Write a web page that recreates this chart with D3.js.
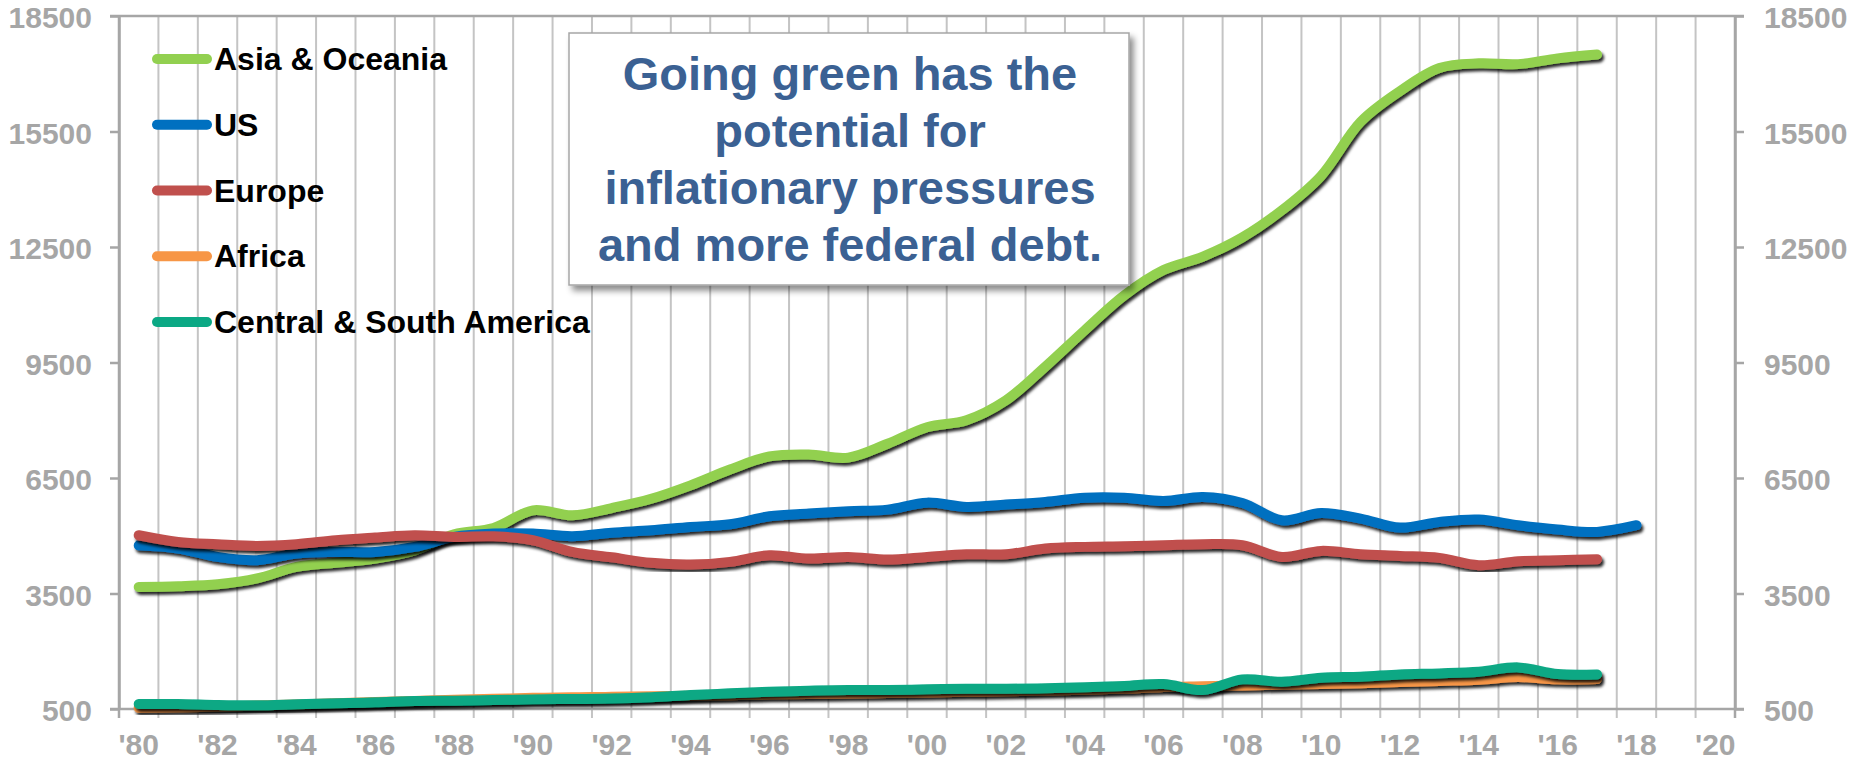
<!DOCTYPE html>
<html>
<head>
<meta charset="utf-8">
<script src="https://cdn.jsdelivr.net/npm/d3@7"></script>
<style>
  html, body { margin: 0; padding: 0; background: #ffffff; }
  svg { display: block; }
  text { font-family: "Liberation Sans", Arial, sans-serif; font-weight: bold; }
</style>
</head>
<body>
<svg id="chart" width="1853" height="762"></svg>
<script>
// ---------------- DATA ----------------
const years = [1980,1981,1982,1983,1984,1985,1986,1987,1988,1989,
               1990,1991,1992,1993,1994,1995,1996,1997,1998,1999,
               2000,2001,2002,2003,2004,2005,2006,2007,2008,2009,
               2010,2011,2012,2013,2014,2015,2016,2017,2018,2019,2020];
const xTickYears  = [1980,1982,1984,1986,1988,1990,1992,1994,1996,1998,2000,
                     2002,2004,2006,2008,2010,2012,2014,2016,2018,2020];
const xTickLabels = ["'80","'82","'84","'86","'88","'90","'92","'94","'96","'98","'00",
                     "'02","'04","'06","'08","'10","'12","'14","'16","'18","'20"];
const yTicks = [500, 3500, 6500, 9500, 12500, 15500, 18500];

const seriesNames = ["Asia & Oceania", "US", "Europe", "Africa", "Central & South America"];

const asiaOceania = [3670,3690,3740,3890,4190,4300,4410,4620,5040,5200,
                     5660,5530,5720,5960,6310,6720,7060,7110,7030,7390,
                     7820,8000,8515,9390,10335,11240,11900,12250,12750,13450,
                     14350,15750,16550,17150,17270,17250,17400,17500];
const us          = [4750,4670,4450,4365,4540,4580,4580,4710,4970,5056,
                     5056,4990,5080,5143,5229,5298,5506,5575,5636,5679,
                     5860,5748,5809,5878,5990,5990,5904,6007,5852,5402,
                     5593,5446,5212,5359,5420,5273,5160,5100,5273];
const europe      = [5013,4840,4780,4737,4780,4883,4953,5013,4970,4987,
                     4883,4581,4440,4296,4252,4322,4494,4408,4451,4382,
                     4451,4520,4520,4667,4711,4728,4754,4780,4754,4451,
                     4607,4520,4477,4425,4235,4339,4365,4391];
const africa      = [530,545,560,590,620,650,680,710,740,765,
                     790,805,815,830,845,860,880,890,900,915,
                     930,945,960,980,1000,1030,1070,1090,1110,1130,
                     1150,1170,1200,1230,1260,1330,1270,1280];
const centralSouthAmerica = [630,630,604,595,621,647,673,707,716,733,
                     750,760,770,803,863,906,950,975,993,993,
                     1010,1027,1027,1036,1062,1097,1148,993,1270,1209,
                     1313,1339,1399,1425,1468,1581,1408,1399];

const seriesValues = [asiaOceania, us, europe, africa, centralSouthAmerica];
const seriesColors = ["#92d050", "#0070c0", "#c0504d", "#f79646", "#0ba884"];

const noteLines = ["Going green has the", "potential for", "inflationary pressures", "and more federal debt."];

// ---------------- LAYOUT ----------------
const svg = d3.select("#chart");
const plotLeft = 119, plotRight = 1735, plotTop = 16, plotBottom = 709;
const tickLen = 9;
const axisColor = "#a6a6a6";
const gridColor = "#c4c4c4";
const axisFont = 30;

const x = d3.scaleBand().domain(years).range([plotLeft, plotRight]).paddingInner(0).paddingOuter(0);
const y = d3.scaleLinear().domain([500, 18500]).range([plotBottom, plotTop]);
const xc = yr => x(yr) + x.bandwidth() / 2;

// defs: shadows
const defs = svg.append("defs");
const sh = defs.append("filter").attr("id", "lineShadow")
  .attr("x", "-5%").attr("y", "-20%").attr("width", "110%").attr("height", "140%");
sh.append("feDropShadow").attr("dx", 2).attr("dy", 3).attr("stdDeviation", 1.6)
  .attr("flood-color", "#000").attr("flood-opacity", 0.85);
const bsh = defs.append("filter").attr("id", "boxShadow")
  .attr("x", "-10%").attr("y", "-10%").attr("width", "120%").attr("height", "120%");
bsh.append("feDropShadow").attr("dx", 4).attr("dy", 5).attr("stdDeviation", 3)
  .attr("flood-color", "#000").attr("flood-opacity", 0.45);

// vertical gridlines at band boundaries (extend below as tick marks)
svg.append("g").selectAll("line")
  .data(years.slice(1))
  .join("line")
  .attr("x1", d => x(d)).attr("x2", d => x(d))
  .attr("y1", plotTop).attr("y2", plotBottom + tickLen)
  .attr("stroke", gridColor).attr("stroke-width", 2);

// top & bottom horizontal border lines
svg.append("g").selectAll("line")
  .data([18500, 500])
  .join("line")
  .attr("x1", plotLeft - tickLen).attr("x2", plotRight + tickLen)
  .attr("y1", d => y(d)).attr("y2", d => y(d))
  .attr("stroke", axisColor).attr("stroke-width", 2.5);

// left axis
const leftAxis = svg.append("g").attr("transform", `translate(${plotLeft},0)`)
  .call(d3.axisLeft(y).tickValues(yTicks).tickSize(tickLen).tickSizeOuter(0).tickPadding(18).tickFormat(d3.format("d")));
// right axis
const rightAxis = svg.append("g").attr("transform", `translate(${plotRight},0)`)
  .call(d3.axisRight(y).tickValues(yTicks).tickSize(tickLen).tickSizeOuter(0).tickPadding(20).tickFormat(d3.format("d")));
[leftAxis, rightAxis].forEach(g => {
  g.select(".domain").attr("stroke", axisColor).attr("stroke-width", 2.5);
  g.selectAll(".tick line").attr("stroke", axisColor).attr("stroke-width", 2.5);
  g.selectAll(".tick text").attr("fill", "#a6a6a6").attr("font-size", axisFont).attr("dy", "0.39em")
    .attr("font-family", "'Liberation Sans', Arial, sans-serif").attr("font-weight", "bold");
});
// axis vertical lines extend slightly below bottom
svg.append("g").selectAll("line")
  .data([plotLeft, plotRight])
  .join("line")
  .attr("x1", d => d).attr("x2", d => d)
  .attr("y1", plotTop).attr("y2", plotBottom + tickLen)
  .attr("stroke", axisColor).attr("stroke-width", 2.5);

// bottom axis labels
const bottomAxis = svg.append("g").attr("transform", `translate(0,${plotBottom})`)
  .call(d3.axisBottom(x).tickValues(xTickYears).tickSize(0).tickPadding(25)
    .tickFormat(d => xTickLabels[xTickYears.indexOf(d)]));
bottomAxis.select(".domain").remove();
bottomAxis.selectAll(".tick text").attr("fill", "#a6a6a6").attr("font-size", axisFont)
  .attr("font-family", "'Liberation Sans', Arial, sans-serif").attr("font-weight", "bold");

// series lines
const line = d3.line()
  .x((d, i) => xc(years[i]))
  .y(d => y(d))
  .curve(d3.curveCatmullRom.alpha(0.5));

svg.append("g").selectAll("path")
  .data(seriesValues)
  .join("path")
  .attr("d", d => line(d))
  .attr("fill", "none")
  .attr("stroke", (d, i) => seriesColors[i])
  .attr("stroke-width", 10)
  .attr("stroke-linecap", "round")
  .attr("stroke-linejoin", "round")
  .attr("filter", "url(#lineShadow)");

// legend
const legend = svg.append("g");
const legendRows = legend.selectAll("g")
  .data(seriesNames)
  .join("g")
  .attr("transform", (d, i) => `translate(0,${59 + i * 65.75})`);
legendRows.append("line")
  .attr("x1", 157).attr("x2", 207).attr("y1", 0).attr("y2", 0)
  .attr("stroke", (d, i) => seriesColors[i]).attr("stroke-width", 10).attr("stroke-linecap", "round");
legendRows.append("text")
  .attr("x", 214).attr("y", 0).attr("dy", "0.35em")
  .attr("font-size", 32).attr("fill", "#000")
  .text(d => d);

// annotation box
const note = svg.append("g");
note.append("rect")
  .attr("x", 569).attr("y", 33).attr("width", 560).attr("height", 252)
  .attr("fill", "#ffffff").attr("stroke", "#a6a6a6").attr("stroke-width", 1.5)
  .attr("filter", "url(#boxShadow)");
note.selectAll("text")
  .data(noteLines)
  .join("text")
  .attr("x", 850).attr("y", (d, i) => 90 + i * 57)
  .attr("text-anchor", "middle")
  .attr("font-size", 47).attr("fill", "#3b6193")
  .text(d => d);
</script>
</body>
</html>
